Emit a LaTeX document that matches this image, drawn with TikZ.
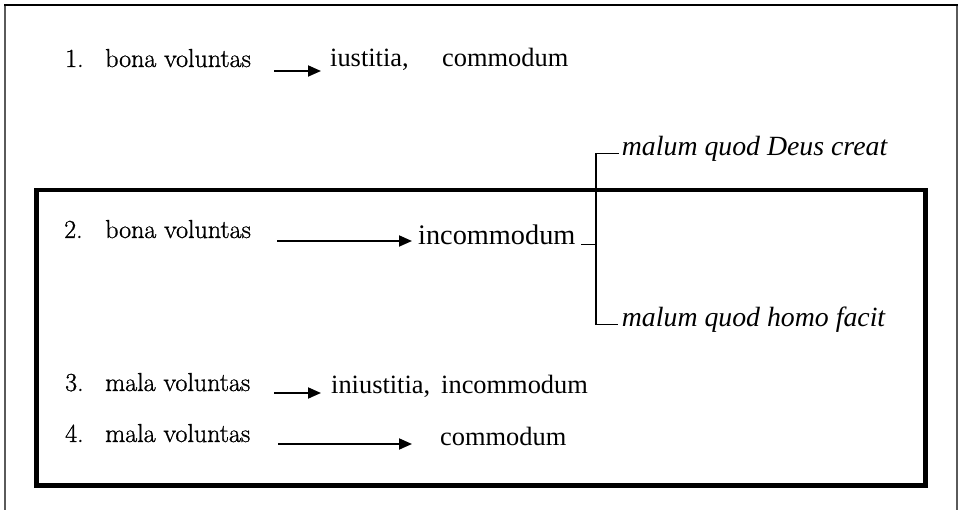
\documentclass[tikz,border=0pt]{standalone}
\usepackage{fontspec}
\newfontfamily\tnr{Liberation Serif}
\newfontfamily\lmr[FakeBold=1]{Latin Modern Roman}
\usetikzlibrary{arrows.meta}
\tikzset{
  lt/.style={anchor=base west, inner sep=0pt, font=\lmr\fontsize{26}{31}\selectfont},
  rt/.style={anchor=base west, inner sep=0pt, font=\tnr\fontsize{26.4}{31}\selectfont},
  rtbig/.style={anchor=base west, inner sep=0pt, font=\tnr\fontsize{28.3}{33}\selectfont},
  itx/.style={anchor=base west, inner sep=0pt, font=\tnr\itshape\fontsize{27.8}{33}\selectfont},
  arr/.style={-{Triangle[length=13pt,width=11pt]}, line width=1.8pt},
  brk/.style={line width=1.3pt},
  frame/.style={line width=1.5pt, draw={rgb,255:red,90;green,90;blue,90}},
  thick box/.style={line width=4.5pt}
}
\begin{document}
\begin{tikzpicture}[x=1pt,y=-1pt]
\useasboundingbox (0,0) rectangle (962,510);
% outer frame (open at bottom)
\draw[frame] (5,512) -- (5,5);
\draw[frame] (957,512) -- (957,5);
\draw[line width=1.5pt] (4.25,5) -- (957.75,5);
% thick box
\draw[thick box] (36.5,190) rectangle (925.5,485.5);

% row 1
\node[lt] (n1) at (65,67) {1.};
\node[lt] (l1) at (105,67) {bona voluntas};
\coordinate (a1s) at (274,71);
\coordinate (a1e) at (321,71);
\draw[arr] (a1s) -- (a1e);
\node[rt] (r1a) at (330,67) {iustitia,};
\node[rt] (r1b) at (442,67) {commodum};

% row 2
\node[lt] (n2) at (64,238) {2.};
\node[lt] (l2) at (105,238) {bona voluntas};
\coordinate (a2s) at (277,241);
\coordinate (a2e) at (412,241);
\draw[arr] (a2s) -- (a2e);
\node[rtbig] (r2) at (418,245) {incommodum};
\coordinate (bm0) at (581,244.5);
\coordinate (bm) at (596,244.5);
\coordinate (bt) at (596,153.5);
\coordinate (bb) at (596,324.5);
\node[itx] (m1) at (621.7,156) {malum quod Deus creat};
\node[itx] (m2) at (621.7,327) {malum quod homo facit};
\draw[brk] (bm0) -- (bm);
\draw[brk] (m1.base west |- bt) ++(-3,0) -- (bt) -- (bb) -- ++(22,0);

% row 3
\node[lt] (n3) at (65,391) {3.};
\node[lt] (l3) at (105,391) {mala voluntas};
\coordinate (a3s) at (274,393);
\coordinate (a3e) at (321,393);
\draw[arr] (a3s) -- (a3e);
\node[rt] (r3) at (331,394) {iniustitia,\, incommodum};

% row 4
\node[lt] (n4) at (65,442) {4.};
\node[lt] (l4) at (105,442) {mala voluntas};
\coordinate (a4s) at (278,444);
\coordinate (a4e) at (412,444);
\draw[arr] (a4s) -- (a4e);
\node[rt] (r4) at (440,446) {commodum};
\end{tikzpicture}
\end{document}
